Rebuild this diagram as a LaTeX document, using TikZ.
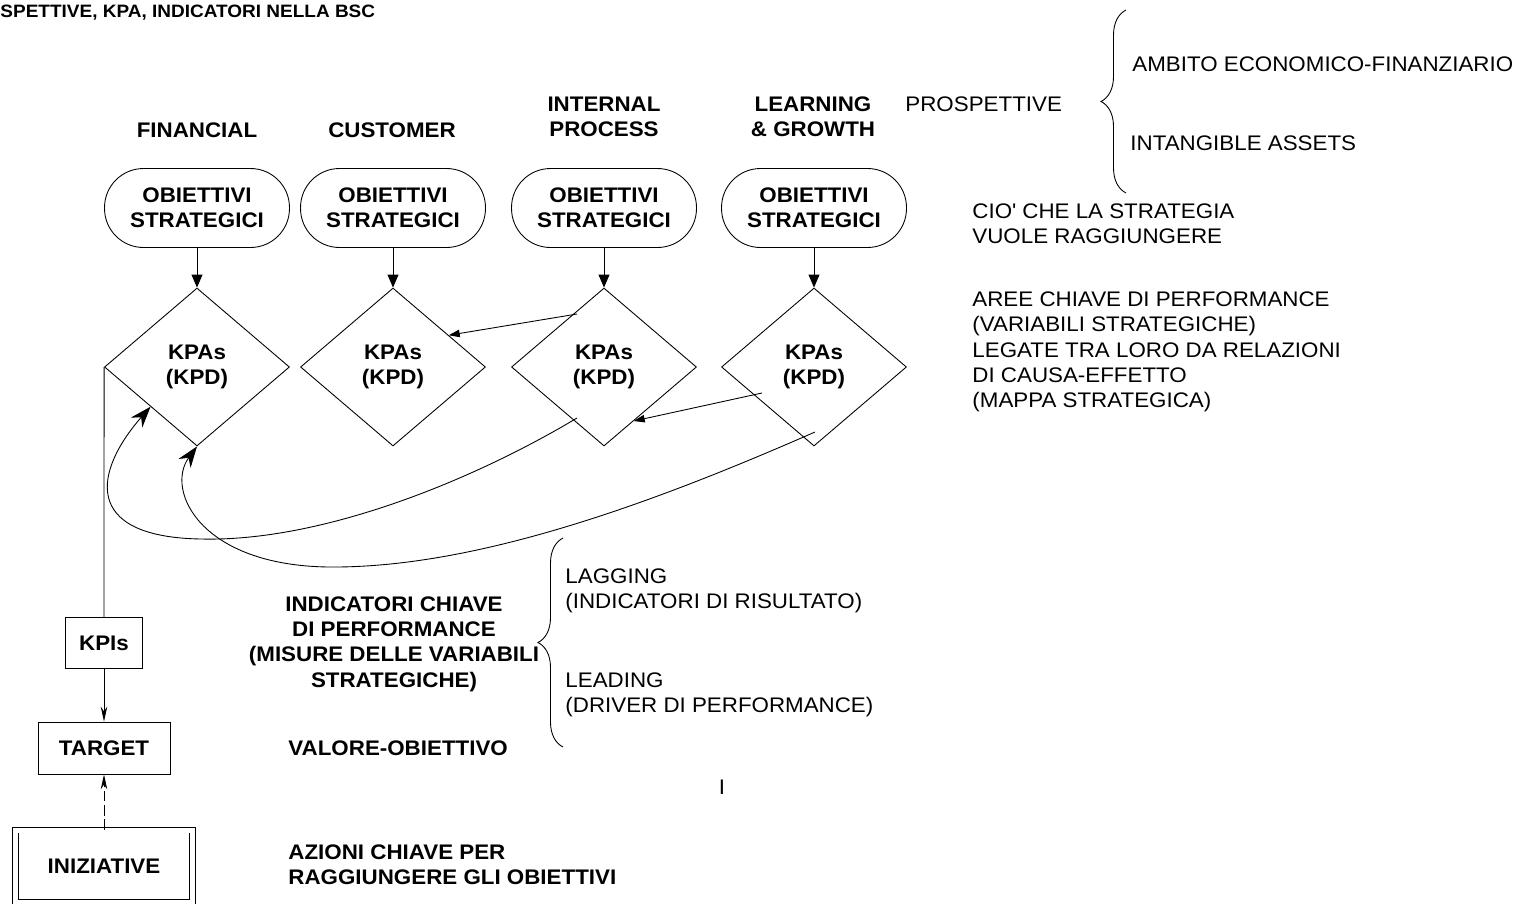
\documentclass[tikz,border=0pt]{standalone}
\usepackage{fontspec}
\setmainfont{Liberation Sans}[FakeStretch=1.06]
\usetikzlibrary{shapes.geometric,arrows.meta,calc,decorations.pathreplacing}

\newcommand{\sz}{\fontsize{12}{14.4}\selectfont}

\tikzstyle{obj} = [draw, rectangle, rounded corners=0.78cm, minimum width=3.7cm, minimum height=1.58cm, align=center, font=\sz\bfseries]
\tikzstyle{kpa} = [draw, diamond, aspect=1.17, minimum width=3.7cm, minimum height=3.16cm, inner sep=0pt, align=center, font=\sz\bfseries]
\tikzstyle{head} = [align=center, inner sep=0pt, font=\sz\bfseries]
\tikzstyle{note} = [align=left, anchor=west, inner sep=0pt, font=\sz]
\tikzstyle{bnote} = [align=left, anchor=west, inner sep=0pt, font=\sz\bfseries]
\tikzstyle{box} = [draw, rectangle, inner sep=0pt, font=\sz\bfseries]
\tikzstyle{link} = [-{Triangle[length=0.26cm,width=0.22cm]}]
\tikzstyle{thinlink} = [-{Triangle[length=0.22cm,width=0.15cm]}]
\tikzstyle{backlink} = [-{Stealth[length=0.42cm,width=0.3cm]}]
\tikzstyle{slim} = [-{Stealth[length=0.3cm,width=0.13cm]}]
\tikzstyle{brace} = [decorate, decoration={brace, amplitude=0.5cm}]

\begin{document}
\begin{tikzpicture}[x=0.02cm, y=-0.02cm, line width=0.5pt]
\useasboundingbox (0,0) rectangle (1530,903);

\node[bnote, font=\fontsize{10.2}{12}\selectfont\bfseries] (title) at (0,13) {SPETTIVE, KPA, INDICATORI NELLA BSC};

\node[head] (fin) at (197,130) {FINANCIAL};
\node[head] (cus) at (392,130) {CUSTOMER};
\node[head] (int) at (604,117) {INTERNAL\\PROCESS};
\node[head] (lrn) at (813,117) {LEARNING\\\& GROWTH};

\node[obj] (o1) at (197,208) {OBIETTIVI\\STRATEGICI};
\node[obj] (o2) at (393,208) {OBIETTIVI\\STRATEGICI};
\node[obj] (o3) at (604,208) {OBIETTIVI\\STRATEGICI};
\node[obj] (o4) at (814,208) {OBIETTIVI\\STRATEGICI};

\node[kpa] (k1) at (197,367) {KPAs\\(KPD)};
\node[kpa] (k2) at (393,367) {KPAs\\(KPD)};
\node[kpa] (k3) at (604,367) {KPAs\\(KPD)};
\node[kpa] (k4) at (814,367) {KPAs\\(KPD)};

\foreach \i in {1,...,4}
	\draw[link] (o\i) -- (k\i);

\coordinate (s3) at ($(k3)+(-27,-53)$);
\coordinate (s4) at ($(k4)+(-52,26)$);
\draw[thinlink] (s3) -- ($(k2.east)!0.4!(k2.north)$);
\draw[thinlink] (s4) -- ($(k3.south)!0.32!(k3.east)$);

\coordinate (c3) at ($(k3)+(-27,51)$);
\coordinate (c4) at ($(k4)+(1,65)$);
\draw[backlink] (c3) .. controls (470,482) and (320,542) .. (201,539) .. controls (80,537) and (95,470) .. (k1.south west);
\draw[backlink] (c4) .. controls (660,500) and (480,568) .. (330,567) .. controls (200,566) and (165,490) .. (k1.south);

\node[box, minimum width=1.54cm, minimum height=1.02cm] (kpi) at (104,643) {KPIs};
\node[box, minimum width=2.64cm, minimum height=1.04cm] (tgt) at (104,748) {TARGET};
\node[box, double, double distance=0.1cm, minimum width=3.54cm, minimum height=1.44cm] (ini) at (104,866) {INIZIATIVE};

\draw (k1.west) -- (kpi);
\draw[slim] (kpi) -- (tgt);
\draw[slim, dash pattern=on 6pt off 2pt] (ini) -- (tgt);

\node[note] (prosp) at (905,104) {PROSPETTIVE};
\node[note] (amb) at (1132,64) {AMBITO ECONOMICO-FINANZIARIO};
\node[note] (intang) at (1130,143) {INTANGIBLE ASSETS};
\draw[brace] (1126,193) -- (1126,10);
\node[note] (cio) at (972,224) {CIO\textquotesingle{} CHE LA STRATEGIA\\VUOLE RAGGIUNGERE};
\node[note] (aree) at (972,352) {AREE CHIAVE DI PERFORMANCE\\(VARIABILI STRATEGICHE)\\LEGATE TRA LORO DA RELAZIONI\\DI CAUSA-EFFETTO\\(MAPPA STRATEGICA)};

\node[head] (ind) at (394,644) {INDICATORI CHIAVE\\DI PERFORMANCE\\(MISURE DELLE VARIABILI\\STRATEGICHE)};
\node[bnote] (val) at (288,748) {VALORE-OBIETTIVO};
\node[bnote] (azi) at (288,865) {AZIONI CHIAVE PER\\RAGGIUNGERE GLI OBIETTIVI};
\draw[brace] (563,747) -- (563,538);
\node[note] (lag) at (565,591) {LAGGING\\(INDICATORI DI RISULTATO)};
\node[note] (lead) at (565,695) {LEADING\\(DRIVER DI PERFORMANCE)};
\node[note, anchor=center] (bar) at (722,787) {I};
\end{tikzpicture}
\end{document}
